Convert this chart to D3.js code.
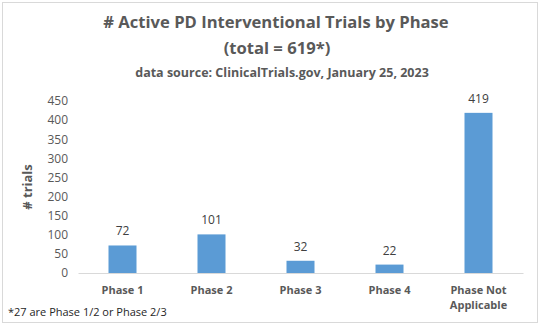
<html>
  <head>
    <meta charset="utf-8" />
    <script src="https://d3js.org/d3.v7.min.js"></script>
    <style>
      body {
        margin: 0;
        background: #fff;
      }
      text {
        font-family: "Open Sans", sans-serif;
      }
    </style>
  </head>
  <body>
    <svg id="chart" width="540" height="326"></svg>
    <script>
      var categories = ["Phase 1", "Phase 2", "Phase 3", "Phase 4", "Phase Not Applicable"];
      var trials = [72, 101, 32, 22, 419];
      var yTicks = [0, 50, 100, 150, 200, 250, 300, 350, 400, 450];

      var svg = d3.select("#chart");

      // outer frame
      svg.append("rect")
        .attr("x", 2.5).attr("y", 2.5)
        .attr("width", 535).attr("height", 320)
        .attr("fill", "#fff").attr("stroke", "#d9d9d9");

      var margin = { top: 101, bottom: 53, left: 78, right: 17 };
      var width = 540, height = 326;

      var x = d3.scaleBand()
        .domain(categories)
        .range([margin.left, width - margin.right])
        .padding(0);

      var y = d3.scaleLinear()
        .domain([0, 450])
        .range([height - margin.bottom, margin.top]);

      var barW = 28;

      // titles
      svg.append("text")
        .attr("x", 276).attr("y", 28)
        .attr("text-anchor", "middle")
        .attr("font-size", "16.6px").attr("font-weight", "bold")
        .attr("fill", "#595959")
        .text("# Active PD Interventional Trials by Phase");
      svg.append("text")
        .attr("x", 277).attr("y", 54)
        .attr("text-anchor", "middle")
        .attr("font-size", "16.6px").attr("font-weight", "bold")
        .attr("fill", "#595959")
        .text("(total = 619*)");
      svg.append("text")
        .attr("x", 282).attr("y", 77)
        .attr("text-anchor", "middle")
        .attr("font-size", "12.5px").attr("font-weight", "bold")
        .attr("fill", "#595959")
        .text("data source: ClinicalTrials.gov, January 25, 2023");

      // y axis (no line)
      var yAxis = svg.append("g")
        .attr("transform", "translate(" + margin.left + ",0)")
        .call(d3.axisLeft(y).tickValues(yTicks).tickSize(0).tickPadding(10));
      yAxis.select(".domain").remove();
      yAxis.selectAll("text")
        .attr("font-family", "Open Sans, sans-serif")
        .attr("font-size", "12px")
        .attr("fill", "#595959");

      // y title
      svg.append("text")
        .attr("transform", "translate(32," + y(225) + ") rotate(-90)")
        .attr("text-anchor", "middle")
        .attr("font-size", "13px").attr("font-weight", "bold")
        .attr("fill", "#595959")
        .text("# trials");

      // bars
      svg.selectAll("rect.bar")
        .data(categories)
        .enter()
        .append("rect")
        .attr("class", "bar")
        .attr("x", (d) => x(d) + x.bandwidth() / 2 - barW / 2)
        .attr("y", (d, i) => y(trials[i]))
        .attr("width", barW)
        .attr("height", (d, i) => y(0) - y(trials[i]))
        .attr("fill", "#5b9bd5");

      // baseline
      var xAxis = svg.append("g")
        .attr("transform", "translate(0," + y(0) + ")")
        .call(d3.axisBottom(x).tickSize(0).tickFormat(""));
      xAxis.select(".domain").attr("stroke", "#d9d9d9").attr("stroke-width", 1);

      // value labels
      svg.selectAll("text.val")
        .data(categories)
        .enter()
        .append("text")
        .attr("class", "val")
        .attr("x", (d) => x(d) + x.bandwidth() / 2)
        .attr("y", (d, i) => y(trials[i]) - 10)
        .attr("text-anchor", "middle")
        .attr("font-size", "12px")
        .attr("fill", "#404040")
        .text((d, i) => trials[i]);

      // category labels, wrapped
      var labelLines = { "Phase Not Applicable": ["Phase Not", "Applicable"] };
      var cat = svg.selectAll("text.cat")
        .data(categories)
        .enter()
        .append("text")
        .attr("class", "cat")
        .attr("text-anchor", "middle")
        .attr("font-size", "11px").attr("font-weight", "bold")
        .attr("fill", "#595959");
      cat.each(function (d) {
        var lines = labelLines[d] || [d];
        var t = d3.select(this);
        lines.forEach(function (l, k) {
          t.append("tspan")
            .attr("x", x(d) + x.bandwidth() / 2)
            .attr("y", y(0) + 21 + k * 15)
            .text(l);
        });
      });

      // footnote
      svg.append("text")
        .attr("x", 8).attr("y", 316)
        .attr("font-size", "11px")
        .attr("fill", "#262626")
        .text("*27 are Phase 1/2 or Phase 2/3");
    </script>
  </body>
</html>
